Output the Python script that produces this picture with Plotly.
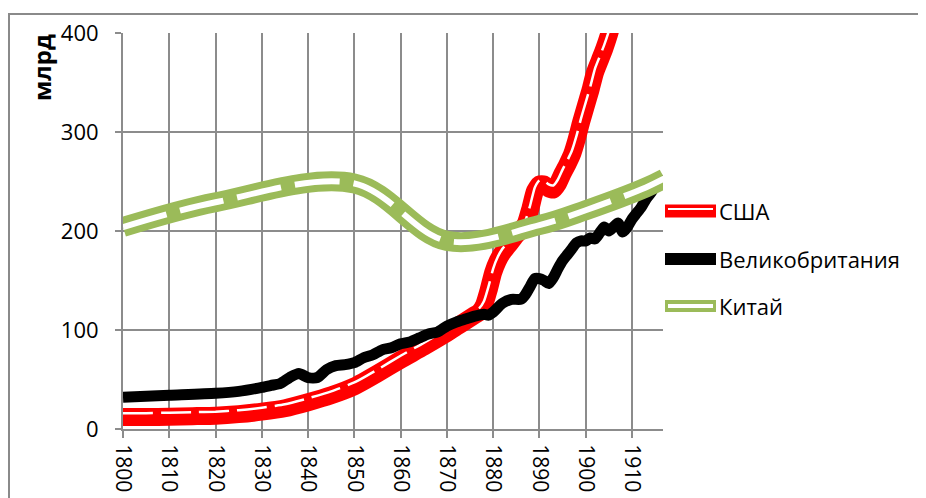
import plotly.graph_objects as go

# ---------------- data (billions) ----------------
usa_years = [1800, 1805, 1810, 1815, 1820, 1825, 1830, 1835, 1840, 1845, 1850, 1855, 1860, 1865,
             1870, 1872, 1874, 1875, 1876, 1877, 1878, 1879, 1880, 1881, 1882, 1883, 1884, 1885,
             1886, 1887, 1888, 1889, 1890, 1891, 1892, 1893, 1894, 1895, 1896, 1897, 1898, 1899,
             1900, 1901, 1902, 1903, 1904, 1905, 1906, 1907]
usa = [12, 12, 12.5, 13, 13.5, 15, 17.5, 21, 27, 34, 43, 56, 70, 83,
       97, 103, 109, 112, 115, 118, 125, 140, 158, 170, 178, 184, 190, 196,
       201, 207, 222, 240, 247, 247, 243, 242, 248, 258, 267, 277, 292, 310,
       326, 342, 360, 372, 384, 398, 415, 430]

uk_years = [1800, 1810, 1820, 1825, 1830, 1832, 1834, 1836, 1838, 1840, 1842, 1844, 1846, 1848,
            1850, 1852, 1854, 1856, 1858, 1860, 1862, 1864, 1866, 1868, 1870, 1872, 1874, 1876,
            1878, 1879, 1880, 1882, 1884, 1886, 1887, 1888, 1889, 1890, 1891, 1892, 1893, 1894,
            1895, 1896, 1897, 1898, 1899, 1900, 1901, 1902, 1903, 1904, 1905, 1906, 1907, 1908,
            1909, 1910, 1911, 1912, 1913, 1914, 1915, 1916, 1917]
uk = [32, 34, 36, 38, 42, 44, 46, 52, 56, 52, 52, 60, 64, 65,
      67, 72, 75, 80, 82, 86, 88, 92, 96, 98, 104, 108, 111, 114,
      116, 115, 118, 127, 131, 131, 136, 144, 152, 152, 150, 147, 153, 162,
      170, 176, 182, 188, 190, 190, 193, 192, 198, 204, 200, 204, 208, 199,
      204, 212, 218, 224, 232, 238, 245, 250, 253]

china_years = [1800, 1820, 1850, 1870, 1890, 1900, 1913, 1917]
china = [204, 229, 248, 190, 206, 221, 244, 253]

series_names = ["США", "Великобритания", "Китай"]
y_ticks = [0, 100, 200, 300, 400]
x_ticks = list(range(1800, 1911, 10))
y_title = "млрд"

# ---------------- style ----------------
RED = "#FF0000"
BLACK = "#000000"
GREEN = "#9BBB59"
GRID = "#8C8C8C"
FONT = "Open Sans"
USA_INNER_SHIFT = 4  # compound-line look: inner white stroke sits above the centre

fig = go.Figure()

fig.add_trace(go.Scatter(x=usa_years, y=usa, mode="lines", name=series_names[0],
                         line=dict(color=RED, width=18, shape="spline", smoothing=0.5),
                         showlegend=False))
fig.add_trace(go.Scatter(x=usa_years, y=[v + USA_INNER_SHIFT for v in usa], mode="lines",
                         hoverinfo="skip",
                         line=dict(color="white", width=2.5, dash="30px,8px",
                                   shape="spline", smoothing=0.5), showlegend=False))
fig.add_trace(go.Scatter(x=uk_years, y=uk, mode="lines", name=series_names[1],
                         line=dict(color=BLACK, width=11, shape="spline", smoothing=0.6),
                         showlegend=False))
fig.add_trace(go.Scatter(x=china_years, y=china, mode="lines", name=series_names[2],
                         line=dict(color=GREEN, width=20, shape="spline", smoothing=1),
                         showlegend=False))
fig.add_trace(go.Scatter(x=china_years, y=china, mode="lines", hoverinfo="skip",
                         line=dict(color="white", width=6, shape="spline", smoothing=1,
                                   dash="45px,14px"), showlegend=False))

# page body adds an 8px offset; reference pixel positions of the plot area
OFF = 8
RL, RR, RT, RB = 123, 663, 33, 429
W, H = 926 - OFF, 498 - OFF
pw, ph = RR - RL, RB - RT


def px(x):
    return (x - RL) / pw


def py(y):
    return (RB - y) / ph


shapes = []
# outer chart frame (runs off the right and bottom edges)
shapes.append(dict(type="rect", xref="paper", yref="paper",
                   x0=px(9), x1=px(960), y0=py(14), y1=py(540),
                   line=dict(color="#8A8A8A", width=2), fillcolor="rgba(0,0,0,0)",
                   layer="below"))

# manual legend
legend_rows = [(211, RED, 13, "white", 2), (259, BLACK, 12, None, 0), (306, GREEN, 12, "white", 4)]
annotations = []
for (yy, col, w, inner, iw), name in zip(legend_rows, series_names):
    shapes.append(dict(type="line", xref="paper", yref="paper",
                       x0=px(665), x1=px(716), y0=py(yy), y1=py(yy),
                       line=dict(color=col, width=w)))
    if inner:
        dy = 2 if col == RED else 0
        shapes.append(dict(type="line", xref="paper", yref="paper",
                           x0=px(668), x1=px(713), y0=py(yy - dy), y1=py(yy - dy),
                           line=dict(color=inner, width=iw)))
    annotations.append(dict(xref="paper", yref="paper", x=px(717), y=py(yy),
                            xanchor="left", yanchor="middle", showarrow=False, text=name,
                            font=dict(family=FONT, size=22, color="black")))

annotations.append(dict(xref="paper", yref="paper", x=px(42), y=py(68),
                        xanchor="center", yanchor="middle", showarrow=False,
                        text="<b>" + y_title + "</b>", textangle=-90,
                        font=dict(family=FONT, size=24, color="black")))

fig.update_layout(
    width=W, height=H,
    margin=dict(l=RL - OFF, r=W - (RR - OFF), t=RT - OFF, b=H - (RB - OFF), autoexpand=False),
    paper_bgcolor="white", plot_bgcolor="white",
    font=dict(family=FONT, size=22, color="black"),
    shapes=shapes, annotations=annotations,
    showlegend=False,
)

fig.update_xaxes(range=[1800, 1916.7], tickmode="array", tickvals=x_ticks,
                 ticktext=[str(v) for v in x_ticks], tickangle=90,
                 showgrid=True, gridcolor=GRID, gridwidth=2,
                 showline=True, linecolor=GRID, linewidth=2,
                 ticks="outside", ticklen=7, tickcolor=GRID, tickwidth=2,
                 zeroline=False, automargin=False, ticklabelstandoff=2,
                 tickfont=dict(family=FONT, size=21, color="black"))
fig.update_yaxes(range=[0, 400], tickmode="array", tickvals=y_ticks,
                 ticktext=[str(v) for v in y_ticks],
                 showgrid=True, gridcolor=GRID, gridwidth=2,
                 showline=True, linecolor=GRID, linewidth=2,
                 ticks="outside", ticklen=6, tickcolor=GRID, tickwidth=2,
                 zeroline=False, automargin=False, ticklabelstandoff=12,
                 tickfont=dict(family=FONT, size=22, color="black"))

fig.write_html("out.html")
